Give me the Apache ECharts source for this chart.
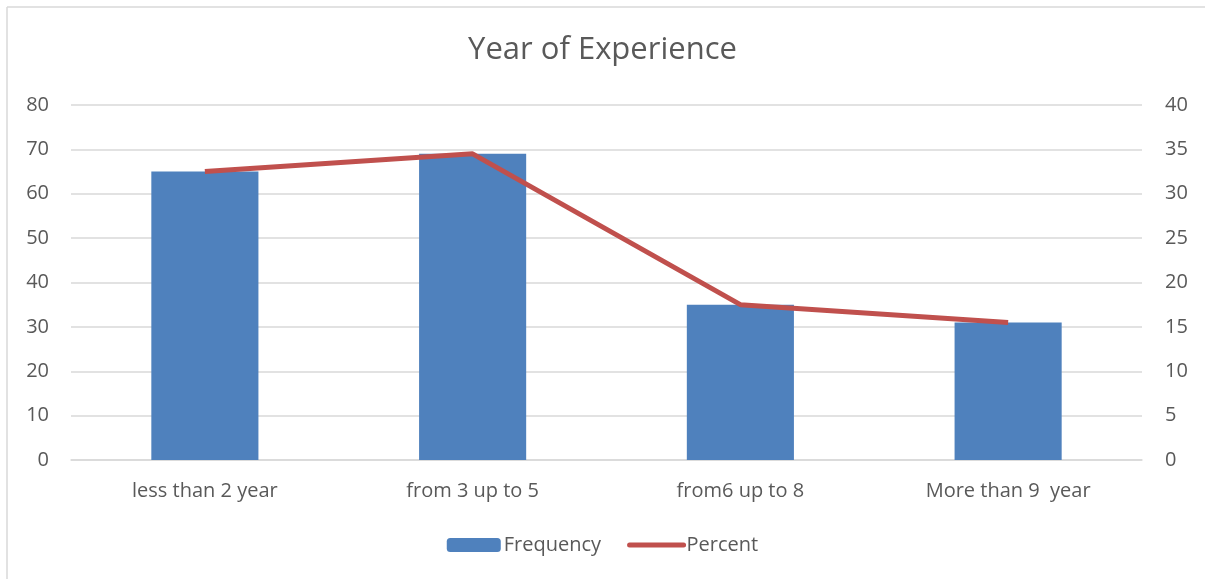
<!DOCTYPE html>
<html><head><meta charset="utf-8">
<script src="https://cdn.jsdelivr.net/npm/echarts@6/dist/echarts.min.js"></script>
<style>html,body{margin:0;padding:0;background:#fff}#c{width:1205px;height:579px}</style>
</head><body><div id="c"></div>
<script>
const categories = ['less than 2 year', 'from 3 up to 5', 'from6 up to 8', 'More than 9  year'];
const frequency = [65, 69, 35, 31];
const percent = [32.5, 34.5, 17.5, 15.5];
const leftTicks = {min: 0, max: 80, interval: 10};
const rightTicks = {min: 0, max: 40, interval: 5};

const font = '"Open Sans", Lato, sans-serif';
const txt = '#595959';
const chart = echarts.init(document.getElementById('c'), null, {renderer: 'canvas'});
chart.setOption({
  animation: false,
  backgroundColor: '#fff',
  title: {text: 'Year of Experience', left: 'center', top: 30,
    textStyle: {fontFamily: font, fontSize: 31, fontWeight: 'normal', color: txt}},
  grid: {left: 71, right: 63, top: 105, bottom: 119},
  legend: {bottom: 19, left: 'center', itemGap: 26, itemWidth: 54, itemHeight: 14,
    textStyle: {fontFamily: font, fontSize: 20, color: txt, padding: [0, 0, 0, -2]},
    data: [{name: 'Frequency'},
           {name: 'Percent', itemStyle: {opacity: 0}, lineStyle: {width: 5, cap: 'round', color: '#C0504D'}}]},
  xAxis: {type: 'category', data: categories,
    axisLine: {show: true, lineStyle: {color: '#D9D9D9', width: 1.5}},
    axisTick: {show: false},
    axisLabel: {fontFamily: font, fontSize: 20, color: txt, margin: 21}},
  yAxis: [
    {type: 'value', min: leftTicks.min, max: leftTicks.max, interval: leftTicks.interval,
      axisLine: {show: false}, axisTick: {show: false},
      splitLine: {lineStyle: {color: '#D9D9D9', width: 1.5}},
      axisLabel: {fontFamily: font, fontSize: 20, color: txt, margin: 22}},
    {type: 'value', min: rightTicks.min, max: rightTicks.max, interval: rightTicks.interval,
      axisLine: {show: false}, axisTick: {show: false}, splitLine: {show: false},
      axisLabel: {fontFamily: font, fontSize: 20, color: txt, margin: 23}}
  ],
  series: [
    {name: 'Frequency', type: 'bar', data: frequency, barWidth: '40%',
      itemStyle: {color: '#4F81BD'}},
    {name: 'Percent', type: 'line', yAxisIndex: 1, data: percent,
      symbol: 'none', lineStyle: {color: '#C0504D', width: 5}, itemStyle: {color: '#C0504D'}}
  ],
  graphic: [
    {type: 'line', shape: {x1: 7, y1: 7, x2: 1205, y2: 7}, style: {stroke: '#D9D9D9', lineWidth: 1.5}},
    {type: 'line', shape: {x1: 7, y1: 7, x2: 7, y2: 579}, style: {stroke: '#D9D9D9', lineWidth: 1.5}}
  ]
});
</script></body></html>
